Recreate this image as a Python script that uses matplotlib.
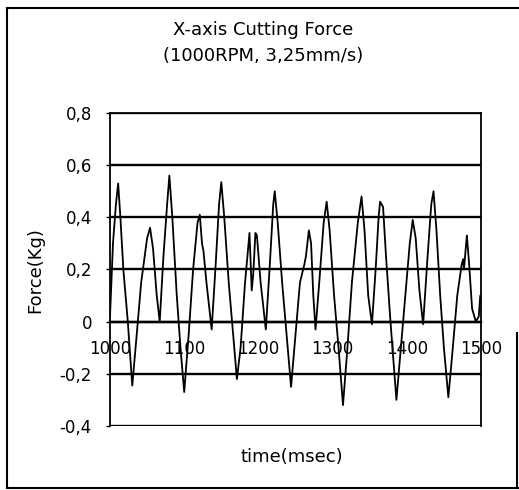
import matplotlib
matplotlib.use("Agg")
import matplotlib.pyplot as plt
from matplotlib.lines import Line2D

# data (time in ms, force in kg)
time_ms = [1000, 1004, 1008, 1011, 1014, 1018, 1024, 1030, 1036, 1042,
           1050, 1054, 1058, 1063, 1067, 1072, 1077, 1080, 1084, 1090,
           1095, 1100, 1106, 1112, 1118, 1121, 1124, 1126, 1130, 1137,
           1142, 1147, 1150, 1154, 1160, 1166, 1171, 1176, 1182, 1188,
           1191, 1193, 1196, 1198, 1203, 1210, 1215, 1220, 1222, 1226,
           1232, 1238, 1244, 1250, 1256, 1262, 1264, 1268, 1271, 1274,
           1277, 1282, 1288, 1292, 1296, 1302, 1308, 1314, 1320, 1326,
           1334, 1339, 1343, 1348, 1353, 1358, 1362, 1364, 1368, 1372,
           1378, 1386, 1392, 1398, 1404, 1408, 1412, 1417, 1422, 1428,
           1433, 1436, 1440, 1445, 1450, 1456, 1462, 1468, 1474, 1476,
           1477, 1480, 1481, 1484, 1488, 1493, 1497, 1499, 1500]
force_kg = [0.02, 0.30, 0.45, 0.53, 0.40, 0.20, 0.00, -0.245, -0.05, 0.15,
            0.32, 0.36, 0.28, 0.10, 0.00, 0.25, 0.45, 0.56, 0.40, 0.10,
            -0.10, -0.27, -0.05, 0.20, 0.38, 0.41, 0.30, 0.27, 0.15, -0.03,
            0.20, 0.45, 0.535, 0.40, 0.15, -0.05, -0.22, -0.10, 0.15, 0.34,
            0.12, 0.18, 0.34, 0.33, 0.15, -0.03, 0.20, 0.45, 0.50, 0.38,
            0.15, -0.05, -0.25, -0.05, 0.15, 0.22, 0.25, 0.35, 0.30, 0.10,
            -0.03, 0.15, 0.38, 0.46, 0.35, 0.10, -0.10, -0.32, -0.10, 0.15,
            0.38, 0.48, 0.35, 0.10, -0.01, 0.20, 0.40, 0.46, 0.44, 0.25,
            0.00, -0.30, -0.10, 0.10, 0.30, 0.39, 0.32, 0.12, -0.01, 0.25,
            0.45, 0.50, 0.35, 0.10, -0.10, -0.29, -0.10, 0.10, 0.22, 0.24,
            0.20, 0.30, 0.33, 0.22, 0.05, 0.00, 0.02, 0.10, 0.10]

x_ticks = [1000, 1100, 1200, 1300, 1400, 1500]
y_ticks = [-0.4, -0.2, 0, 0.2, 0.4, 0.6, 0.8]
y_labels = ["-0,4", "-0,2", "0", "0,2", "0,4", "0,6", "0,8"]

W, H = 519, 490
fig = plt.figure(figsize=(W / 100, H / 100), dpi=100)
ax = fig.add_axes([110 / W, 1 - 426 / H, 371 / W, 313 / H])

ax.plot(time_ms, force_kg, color="black", lw=1.3, zorder=3)

ax.set_xlim(1000, 1500)
ax.set_ylim(-0.4, 0.8)
ax.set_yticks(y_ticks)
ax.set_yticklabels(y_labels)
ax.set_xticks(x_ticks)
ax.set_xticklabels([str(t) for t in x_ticks])
ax.grid(axis="y", color="black", lw=1.7)
ax.set_axisbelow(True)

# x axis crosses at zero, labels sit under the zero line
ax.spines["bottom"].set_position(("data", 0))
ax.spines["bottom"].set_linewidth(1.7)
for s in ["left", "right", "top"]:
    ax.spines[s].set_linewidth(1.3)
ax.tick_params(axis="x", length=0, pad=13, labelsize=12)
ax.tick_params(axis="y", length=3, width=1, pad=10, labelsize=12)

fig.text(263 / W, 1 - 43 / H, "X-axis Cutting Force\n(1000RPM, 3,25mm/s)",
         ha="center", va="center", fontsize=13, linespacing=1.6)
fig.text(35 / W, 1 - 270 / H, "Force(Kg)", rotation=90,
         ha="center", va="center", fontsize=13)
fig.text(292 / W, 1 - 457 / H, "time(msec)", ha="center", va="center",
         fontsize=13)

# outer border of the scanned figure
def px_line(x0, y0, x1, y1):
    fig.add_artist(Line2D([x0 / W, x1 / W], [1 - y0 / H, 1 - y1 / H],
                          transform=fig.transFigure, color="black", lw=1.5))

px_line(7, 8, 519, 8)
px_line(7, 8, 7, 488)
px_line(7, 488, 519, 488)
px_line(517, 333, 517, 488)

fig.savefig("out.png", dpi=100)
